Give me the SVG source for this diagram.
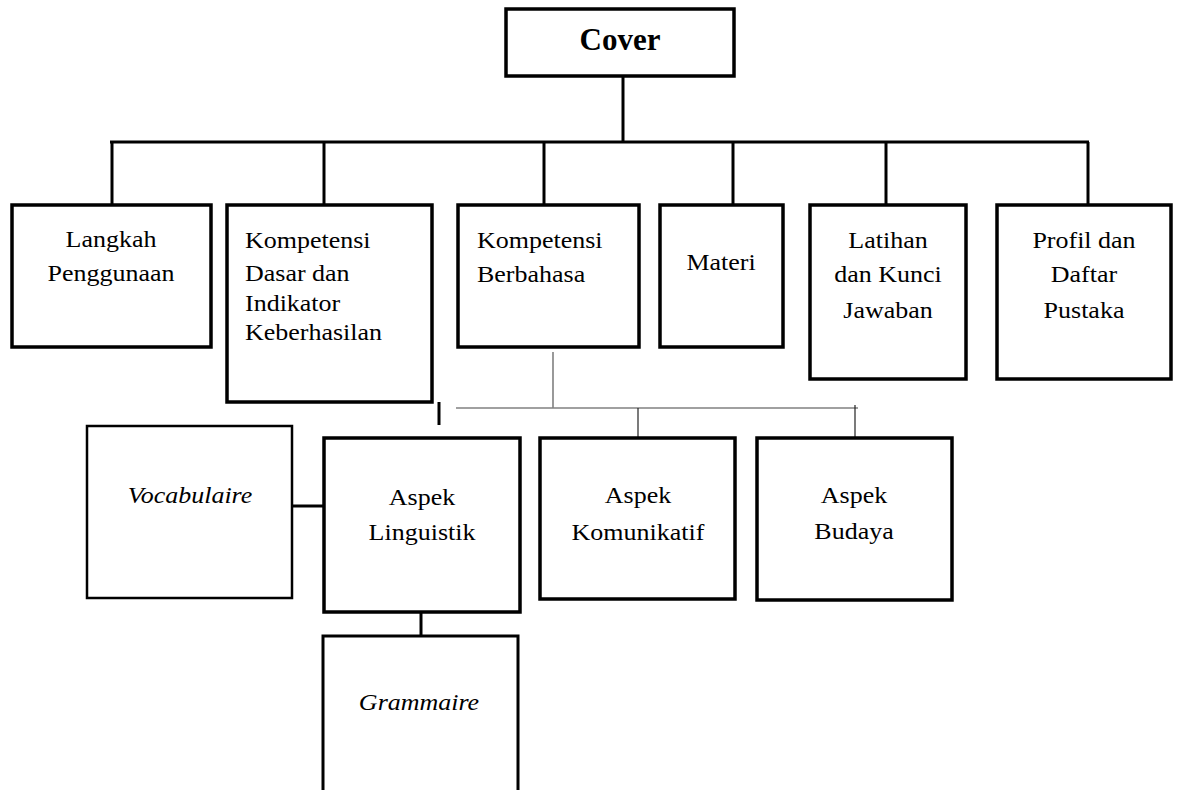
<svg xmlns="http://www.w3.org/2000/svg" width="1177" height="790" viewBox="0 0 1177 790">
<style>
.box{fill:#fff;stroke:#000;stroke-width:3.5}
.thin{fill:none;stroke:#000;stroke-width:2.5}
.ln{fill:none;stroke:#000;stroke-width:3}
.gray{fill:none;stroke:#808080;stroke-width:1.6}
.hair{fill:none;stroke:#222;stroke-width:1.2}
text{font-family:"Liberation Serif","Times New Roman",serif;font-size:23px;fill:#000}
.c{text-anchor:middle}
.i{font-style:italic}
.b{font-weight:bold;font-size:31px}
</style>
<rect width="1177" height="790" fill="#fff"/>
<g id="connectors">
<line class="ln" x1="623" y1="77" x2="623" y2="142"/>
<line class="ln" x1="110" y1="142" x2="1089" y2="142"/>
<line class="ln" x1="112" y1="142" x2="112" y2="205"/>
<line class="ln" x1="324" y1="142" x2="324" y2="205"/>
<line class="ln" x1="544" y1="142" x2="544" y2="205"/>
<line class="ln" x1="733" y1="142" x2="733" y2="205"/>
<line class="ln" x1="886" y1="142" x2="886" y2="205"/>
<line class="ln" x1="1088" y1="142" x2="1088" y2="205"/>
<line class="gray" x1="553" y1="352" x2="553" y2="408"/>
<line class="gray" x1="456" y1="408" x2="858" y2="408"/>
<line class="hair" x1="638" y1="408" x2="638" y2="443"/>
<line class="hair" x1="855" y1="405" x2="855" y2="447"/>
<line x1="439" y1="402" x2="439" y2="425" stroke="#000" stroke-width="3"/>
<line class="ln" x1="292" y1="506" x2="325" y2="506"/>
<line class="ln" x1="421" y1="612" x2="421" y2="636"/>
</g>
<g id="cover">
<rect class="box" x="506" y="9" width="228" height="67"/>
<text class="c b" x="620" y="50">Cover</text>
</g>
<g id="langkah">
<rect class="box" x="12" y="205" width="199" height="142"/>
<text class="c" transform="translate(111,247) scale(1.13,1)">Langkah</text>
<text class="c" transform="translate(111,281) scale(1.13,1)">Penggunaan</text>
</g>
<g id="kompetensi-dasar">
<rect class="box" x="227" y="205" width="205" height="197"/>
<text transform="translate(245,248) scale(1.13,1)">Kompetensi</text>
<text transform="translate(245,281) scale(1.13,1)">Dasar dan</text>
<text transform="translate(245,311) scale(1.13,1)">Indikator</text>
<text transform="translate(245,340) scale(1.13,1)">Keberhasilan</text>
</g>
<g id="kompetensi-berbahasa">
<rect class="box" x="458" y="205" width="181" height="142"/>
<text transform="translate(477,248) scale(1.13,1)">Kompetensi</text>
<text transform="translate(477,282) scale(1.13,1)">Berbahasa</text>
</g>
<g id="materi">
<rect class="box" x="660" y="205" width="123" height="142"/>
<text class="c" transform="translate(721,270) scale(1.13,1)">Materi</text>
</g>
<g id="latihan">
<rect class="box" x="810" y="205" width="156" height="174"/>
<text class="c" transform="translate(888,248) scale(1.13,1)">Latihan</text>
<text class="c" transform="translate(888,282) scale(1.13,1)">dan Kunci</text>
<text class="c" transform="translate(888,318) scale(1.13,1)">Jawaban</text>
</g>
<g id="profil">
<rect class="box" x="997" y="205" width="174" height="174"/>
<text class="c" transform="translate(1084,248) scale(1.13,1)">Profil dan</text>
<text class="c" transform="translate(1084,282) scale(1.13,1)">Daftar</text>
<text class="c" transform="translate(1084,318) scale(1.13,1)">Pustaka</text>
</g>
<g id="vocabulaire">
<rect class="thin" x="87" y="426" width="205" height="172"/>
<text class="c i" transform="translate(190,503) scale(1.13,1)">Vocabulaire</text>
</g>
<g id="aspek-linguistik">
<rect class="box" x="324" y="438" width="196" height="174"/>
<text class="c" transform="translate(422,505) scale(1.13,1)">Aspek</text>
<text class="c" transform="translate(422,540) scale(1.13,1)">Linguistik</text>
</g>
<g id="aspek-komunikatif">
<rect class="box" x="540" y="438" width="195" height="161"/>
<text class="c" transform="translate(638,503) scale(1.13,1)">Aspek</text>
<text class="c" transform="translate(638,540) scale(1.13,1)">Komunikatif</text>
</g>
<g id="aspek-budaya">
<rect class="box" x="757" y="438" width="195" height="162"/>
<text class="c" transform="translate(854,503) scale(1.13,1)">Aspek</text>
<text class="c" transform="translate(854,539) scale(1.13,1)">Budaya</text>
</g>
<g id="grammaire">
<path class="ln" d="M323,790 V636 H518 V790"/>
<text class="c i" transform="translate(419,710) scale(1.13,1)">Grammaire</text>
</g>
</svg>
